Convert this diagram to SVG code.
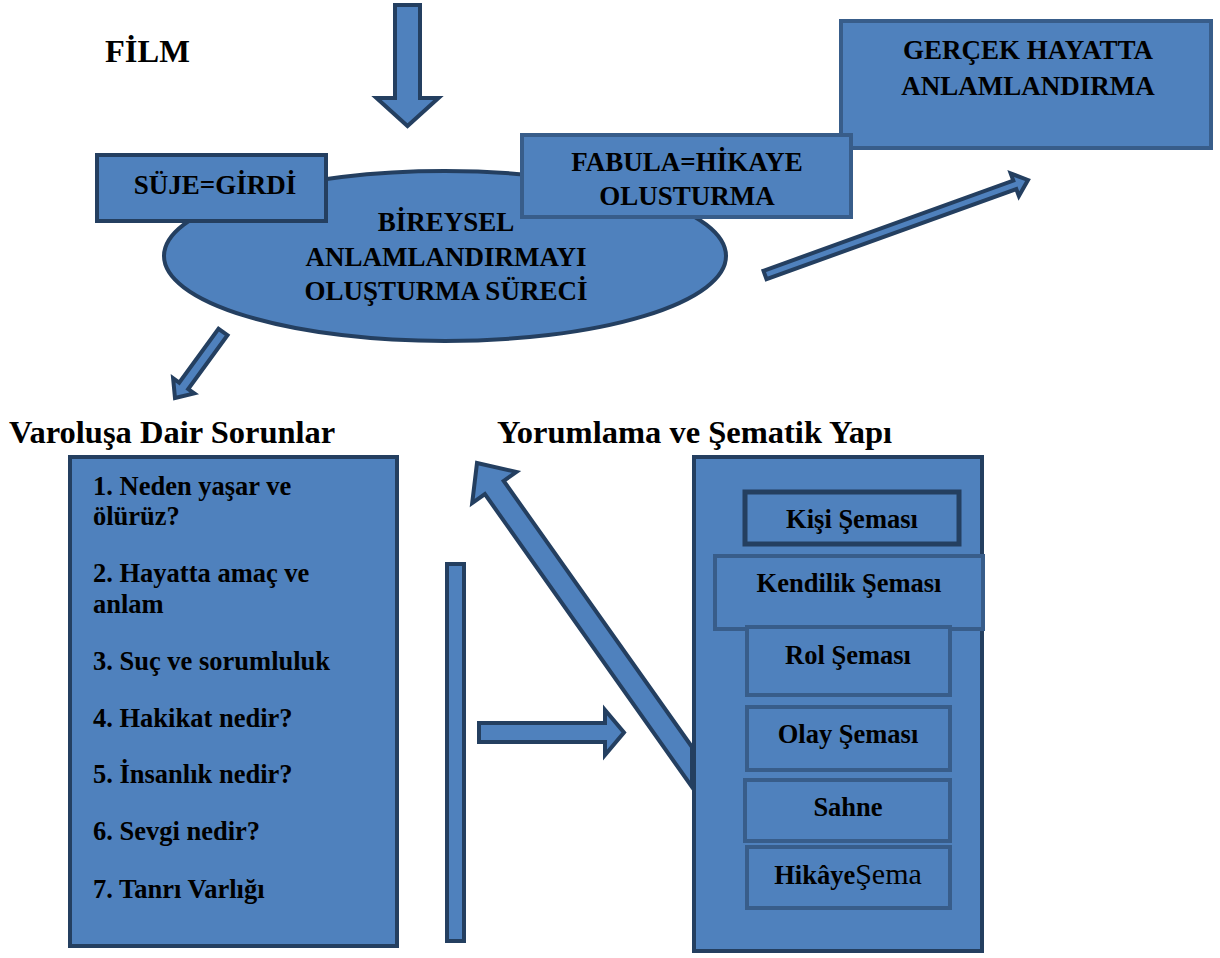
<svg xmlns="http://www.w3.org/2000/svg" width="1220" height="958" viewBox="0 0 1220 958">
<style>
.s{fill:#4F81BD;stroke:#243F60;stroke-width:4}
.m{fill:#4F81BD;stroke:#385D8A;stroke-width:4}
.a{fill:#4F81BD;stroke:#243F60;stroke-width:4;stroke-linejoin:miter}
.t{font-size:27px;font-weight:bold}
.h{font-size:32.5px;font-weight:bold}
.c{text-anchor:middle}
.l{font-size:26.5px;font-weight:bold}
.r{font-size:26.5px;font-weight:bold;text-anchor:middle}
</style>
<rect width="1220" height="958" fill="#fff"/>
<text id="film" class="h" x="105" y="62" font-family="Liberation Serif, serif">FİLM</text>
<g id="gercek" font-family="Liberation Serif, serif"><rect class="m" x="841" y="21" width="370" height="127"/>
<text class="t c" x="1028" y="59">GERÇEK HAYATTA</text><text class="t c" x="1028" y="95">ANLAMLANDIRMA</text></g>
<g id="bireysel" font-family="Liberation Serif, serif"><ellipse class="s" cx="445" cy="256" rx="281" ry="85"/>
<text class="t c" x="446" y="231">BİREYSEL</text><text class="t c" x="446" y="266">ANLAMLANDIRMAYI</text><text class="t c" x="446" y="300">OLUŞTURMA SÜRECİ</text></g>
<g id="suje" font-family="Liberation Serif, serif"><rect class="s" x="97" y="155" width="229" height="66"/>
<text class="t c" x="215" y="194">SÜJE=GİRDİ</text></g>
<g id="fabula" font-family="Liberation Serif, serif"><rect class="m" x="522" y="135" width="329" height="82"/>
<text class="t c" x="687" y="171">FABULA=HİKAYE</text><text class="t c" x="687" y="205">OLUSTURMA</text></g>
<text id="t-varolus" class="h" x="9" y="443" font-family="Liberation Serif, serif">Varoluşa Dair Sorunlar</text>
<text id="t-yorum" class="h" x="497" y="443" font-family="Liberation Serif, serif">Yorumlama ve Şematik Yapı</text>
<g id="varolus" font-family="Liberation Serif, serif"><rect class="s" x="70" y="457" width="327" height="489"/>
<text class="l" x="93" y="495">1. Neden yaşar ve</text>
<text class="l" x="93" y="525">ölürüz?</text>
<text class="l" x="93" y="582">2. Hayatta amaç ve</text>
<text class="l" x="93" y="613">anlam</text>
<text class="l" x="93" y="670">3. Suç ve sorumluluk</text>
<text class="l" x="93" y="727">4. Hakikat nedir?</text>
<text class="l" x="93" y="783">5. İnsanlık nedir?</text>
<text class="l" x="93" y="840">6. Sevgi nedir?</text>
<text class="l" x="93" y="898">7. Tanrı Varlığı</text></g>
<g id="bar"><rect class="s" x="447" y="564" width="17" height="377"/></g>
<g id="connectors">
<polygon class="a" points="395,5 420,5 420,98 438.5,98 407.5,126 376.5,98 395,98"/>
<polygon class="a" points="1028,180 1010.7,173.5 1013.3,180.6 763.5,270.8 766.5,279.2 1016.3,189 1018.9,196.1"/>
<polygon class="a" points="175,398 194.3,393.4 188.2,389 227.5,335.2 218.5,328.8 179.2,382.6 173.1,378.2"/>
<polygon class="a" points="479,723 605,723 605,710 624,732.5 605,755 605,742 479,742"/>
<polygon class="a" points="477,463 516.4,471.9 503.7,480.9 692,747 692,787 484.9,494.1 472.2,503.1"/>
</g>
<g id="yorum"><rect class="s" x="694" y="457" width="288" height="494"/></g>
<g font-family="Liberation Serif, serif">
<g id="kisi"><rect class="s" x="745" y="492" width="214" height="52" style="stroke-width:5"/><text class="r" x="852" y="528">Kişi Şeması</text></g>
<g id="kendilik"><rect class="m" x="715" y="556" width="268" height="73"/><text class="r" x="849" y="592">Kendilik Şeması</text></g>
<g id="rol"><rect class="m" x="747" y="627" width="203" height="68"/><text class="r" x="848" y="664">Rol Şeması</text></g>
<g id="olay"><rect class="m" x="747" y="707" width="203" height="63"/><text class="r" x="848" y="743">Olay Şeması</text></g>
<g id="sahne"><rect class="m" x="745" y="780" width="205" height="61"/><text class="r" x="848" y="816">Sahne</text></g>
<g id="hikaye"><rect class="m" x="747" y="847" width="203" height="61"/><text class="r" x="848" y="884">Hikâye<tspan style="font-weight:normal;font-size:30px">Şema</tspan></text></g>
</g>
</svg>
